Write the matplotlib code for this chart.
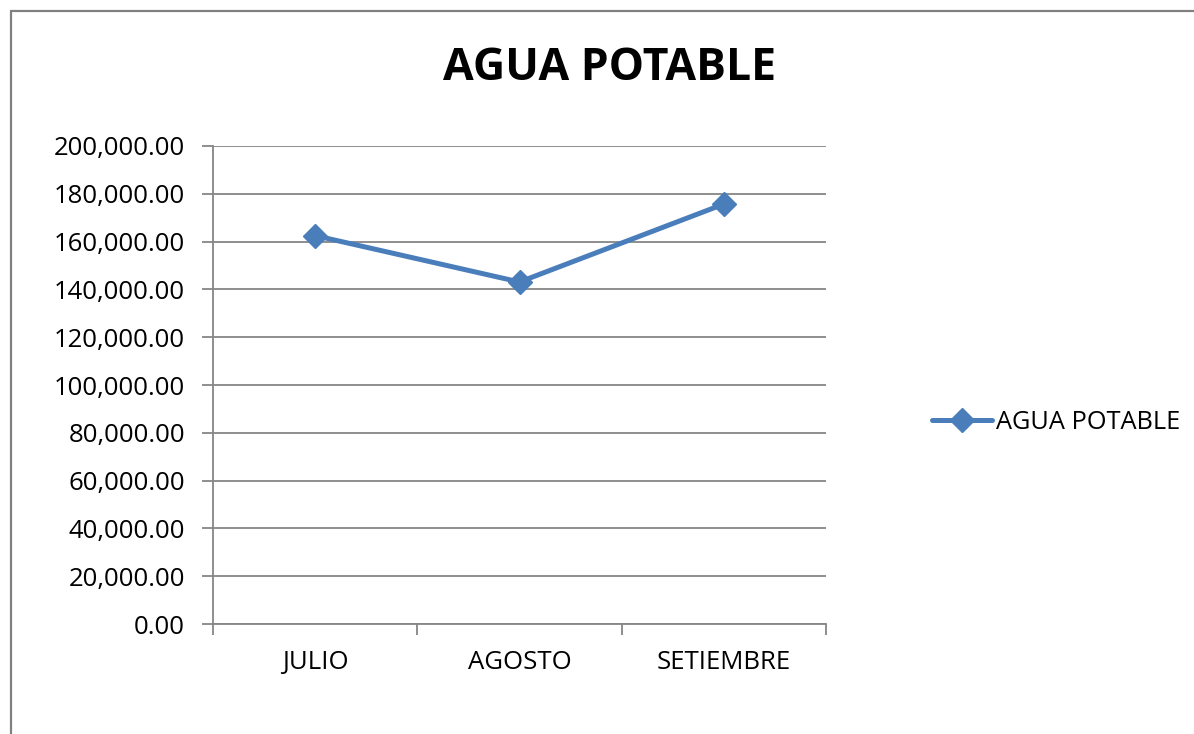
import matplotlib
matplotlib.use("Agg")
import matplotlib.pyplot as plt
from matplotlib.patches import Rectangle
from matplotlib.lines import Line2D
from matplotlib.ticker import FuncFormatter, MultipleLocator

categories = ["JULIO", "AGOSTO", "SETIEMBRE"]
values = [162500, 143100, 175700]
series_name = "AGUA POTABLE"
title = "AGUA POTABLE"

W, H = 1194, 734
fig = plt.figure(figsize=(W / 100, H / 100), dpi=100)
plt.rcParams['font.family'] = ['Open Sans', 'DejaVu Sans']

color = "#4A7EBB"
grid_c = "#868686"

ax = fig.add_axes([213 / W, 1 - 624 / H, (826 - 213) / W, (624 - 146) / H])
x = list(range(len(categories)))
ax.plot(x, values, color=color, lw=3.6, marker="D", ms=12, mec=color, mfc=color,
        zorder=3, clip_on=False)
ax.set_xlim(-0.5, len(categories) - 0.5)
ax.set_ylim(0, 200000)
ax.yaxis.set_major_locator(MultipleLocator(20000))
ax.yaxis.set_major_formatter(FuncFormatter(lambda v, p: f"{v:,.2f}"))
ax.set_xticks([i - 0.5 for i in range(len(categories) + 1)])
ax.set_xticklabels([])
ax.set_xticks(x, minor=True)
ax.set_xticklabels(categories, minor=True)
ax.tick_params(axis="x", which="minor", length=0, pad=19, labelsize=18.5)
ax.tick_params(axis="x", which="major", length=8, width=1.3, color=grid_c)
ax.tick_params(axis="y", length=8, width=1.3, color=grid_c, labelsize=18.5, pad=12)
ax.grid(axis="y", color=grid_c, lw=1.3)
ax.set_axisbelow(True)
for s in ["top", "right"]:
    ax.spines[s].set_visible(False)
for s in ["left", "bottom"]:
    ax.spines[s].set_color(grid_c)
    ax.spines[s].set_linewidth(1.3)

fig.text(610 / W, 1 - 68 / H, title, ha="center", va="center", fontsize=32,
         fontweight="bold")

# legend
fig.add_artist(Line2D([932 / W, 992 / W], [1 - 420 / H, 1 - 420 / H], color=color, lw=3.6,
                      solid_capstyle="round"))
fig.add_artist(Line2D([962 / W], [1 - 420 / H], color=color, marker="D", ms=12, mec=color,
                      mfc=color))
fig.text(996 / W, 1 - 422 / H, series_name, ha="left", va="center", fontsize=18.3)

# outer border
fig.add_artist(Rectangle((11 / W, -0.05), 1.1, 1 - 11 / H + 0.05, transform=fig.transFigure,
                         fill=False, ec="#808080", lw=1.6))

fig.savefig("out.png", dpi=100)
